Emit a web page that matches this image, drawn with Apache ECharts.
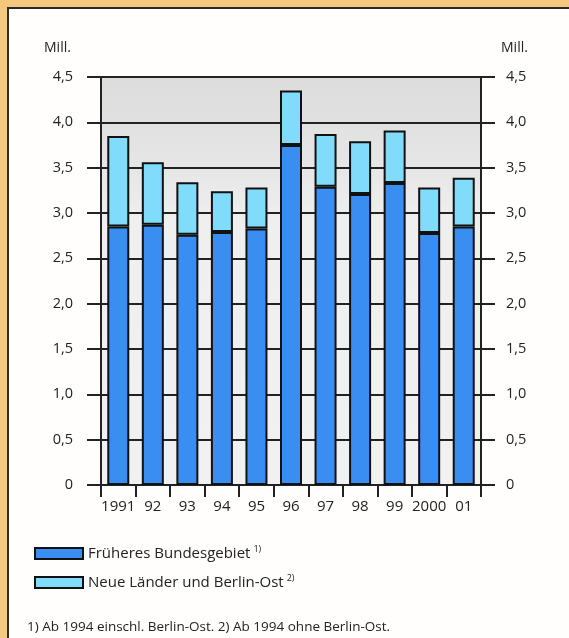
<!DOCTYPE html>
<html>
<head>
<meta charset="utf-8">
<script src="https://cdn.jsdelivr.net/npm/echarts@6/dist/echarts.min.js"></script>
<style>
html,body{margin:0;padding:0;background:#fffefd;overflow:hidden;}
#c{width:569px;height:638px;}
</style>
</head>
<body>
<div id="c"></div>
<script>
var categories = ['1991','92','93','94','95','96','97','98','99','2000','01'];
var frueheres = [2.85, 2.87, 2.76, 2.79, 2.83, 3.75, 3.29, 3.21, 3.33, 2.78, 2.85];
var neueLaender = [1.00, 0.69, 0.58, 0.45, 0.45, 0.60, 0.58, 0.58, 0.58, 0.50, 0.54];
var seriesNames = ['Früheres Bundesgebiet', 'Neue Länder und Berlin-Ost'];
var seriesNotes = ['1)', '2)'];
var unitLabel = 'Mill.';
var footnote = '1) Ab 1994 einschl. Berlin-Ost. 2) Ab 1994 ohne Berlin-Ost.';

var FONT = '"Open Sans", "Noto Sans", sans-serif';
var TXT = '#222';
var ORANGE = '#f6c87c';
var chart = echarts.init(document.getElementById('c'), null, {renderer:'canvas'});

function fmt(v){ return v === 0 ? '0' : v.toFixed(1).replace('.', ','); }

var yCommon = {
  type:'value', min:0, max:4.5, interval:0.5,
  axisLine:{show:true, lineStyle:{color:'#222', width:2}},
  axisTick:{show:true, inside:false, length:14, lineStyle:{color:'#222', width:2}},
  splitLine:{show:true, lineStyle:{color:'#222', width:2}},
  axisLabel:{formatter:fmt, color:TXT, fontSize:14.5, fontFamily:FONT}
};

var option = {
  backgroundColor:'#fffefd',
  animation:false,
  graphic:[
    {type:'rect', z:-10, shape:{x:0, y:0, width:569, height:7}, style:{fill:ORANGE}},
    {type:'rect', z:-10, shape:{x:0, y:0, width:7, height:638}, style:{fill:ORANGE}},
    {type:'polyline', z:-9, shape:{points:[[8,638],[8,8],[569,8]]}, style:{stroke:'#2a2a2a', lineWidth:2, fill:null}},
    {type:'text', left:44, top:41, style:{text:unitLabel, font:'14px ' + FONT, fill:TXT}},
    {type:'text', left:501, top:41, style:{text:unitLabel, font:'14px ' + FONT, fill:TXT}},
    {type:'text', left:27, top:620, style:{text:footnote, font:'13.5px ' + FONT, fill:TXT}}
  ],
  grid:{left:101, right:88, top:77, bottom:153, show:true, borderWidth:0,
    backgroundColor:{type:'linear', x:0, y:0, x2:0, y2:1, colorStops:[
      {offset:0, color:'#dcdcdc'}, {offset:0.22, color:'#e6e6e6'}, {offset:0.35, color:'#efefef'}, {offset:1, color:'#f1f1f1'}]}},
  legend:{
    orient:'vertical', left:29, top:540, itemWidth:48, itemHeight:11, itemGap:13,
    icon:'rect',
    itemStyle:{borderColor:'#111', borderWidth:2},
    textStyle:{color:TXT, fontSize:15, fontFamily:FONT,
      rich:{n:{fontSize:15, fontFamily:FONT, color:TXT}, s:{fontSize:9, fontFamily:FONT, color:TXT, verticalAlign:'top', padding:[0,0,8,3]}}},
    formatter:function(name){
      var i = seriesNames.indexOf(name);
      return '{n|' + name + '}{s|' + seriesNotes[i] + '}';
    },
    data:seriesNames
  },
  xAxis:{
    type:'category', data:categories, boundaryGap:true,
    axisLine:{show:true, lineStyle:{color:'#222', width:2}},
    axisTick:{show:true, interval:0, length:12, lineStyle:{color:'#222', width:2}},
    axisLabel:{color:TXT, fontSize:15, fontFamily:FONT, margin:14, interval:0}
  },
  yAxis:[
    Object.assign({}, yCommon, {position:'left', axisLabel:Object.assign({}, yCommon.axisLabel, {margin:28})}),
    Object.assign({}, yCommon, {position:'right', splitLine:{show:false}, axisLabel:Object.assign({}, yCommon.axisLabel, {margin:25})})
  ],
  series:[
    {name:seriesNames[0], type:'bar', stack:'a', data:frueheres, barWidth:22,
     itemStyle:{color:'#3a8ef2', borderColor:'#111', borderWidth:2}},
    {name:seriesNames[1], type:'bar', stack:'a', data:neueLaender, barWidth:22,
     itemStyle:{color:'#80dcfa', borderColor:'#111', borderWidth:2}}
  ]
};
chart.setOption(option);
</script>
</body>
</html>
